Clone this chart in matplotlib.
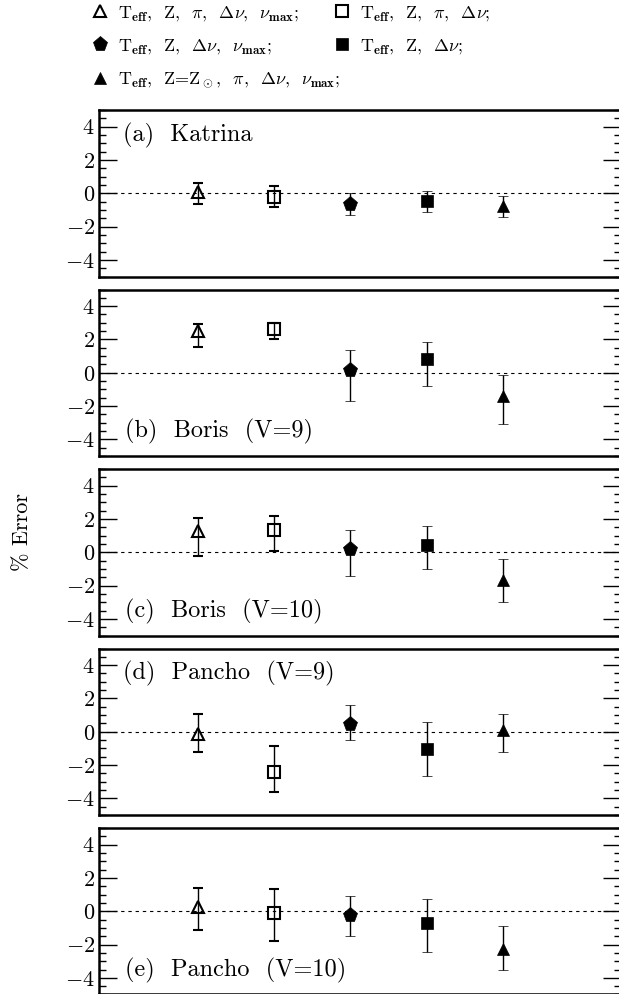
import numpy as np
import matplotlib
matplotlib.use('Agg')
import matplotlib.pyplot as plt

plt.rcParams['font.family'] = 'cmr10'
plt.rcParams['mathtext.fontset'] = 'cm'
plt.rcParams['axes.formatter.use_mathtext'] = True
plt.rcParams['axes.unicode_minus'] = True

# five fit combinations, same order in every panel
xpos = [1, 2, 3, 4, 5]
panel_labels = ['(a)  Katrina', '(b)  Boris  (V=9)', '(c)  Boris  (V=10)',
                '(d)  Pancho  (V=9)', '(e)  Pancho  (V=10)']
label_top = [True, False, False, True, False]

# % error (marker centre) and error-bar ends
val_a = [0.10, -0.20, -0.64, -0.48, -0.76]
hi_a = [0.64, 0.44, 0.00, 0.16, -0.16]
lo_a = [-0.64, -0.80, -1.28, -1.12, -1.44]

val_b = [2.48, 2.62, 0.14, 0.80, -1.40]
hi_b = [2.94, 3.00, 1.36, 1.86, -0.14]
lo_b = [1.56, 2.04, -1.72, -0.80, -3.10]

val_c = [1.26, 1.36, 0.18, 0.46, -1.64]
hi_c = [2.08, 2.16, 1.36, 1.56, -0.40]
lo_c = [-0.20, 0.10, -1.40, -0.98, -2.98]

val_d = [-0.14, -2.44, 0.48, -1.06, 0.12]
hi_d = [1.06, -0.88, 1.62, 0.60, 1.08]
lo_d = [-1.20, -3.60, -0.48, -2.64, -1.22]

val_e = [0.28, -0.12, -0.24, -0.70, -2.28]
hi_e = [1.38, 1.32, 0.92, 0.76, -0.88]
lo_e = [-1.10, -1.80, -1.50, -2.44, -3.50]

vals = [val_a, val_b, val_c, val_d, val_e]
his = [hi_a, hi_b, hi_c, hi_d, hi_e]
los = [lo_a, lo_b, lo_c, lo_d, lo_e]

legend_labels = [
    r'$\mathrm{T}_{\mathbf{eff}}$,  Z,  $\pi$,  $\Delta\nu$,  $\nu_{\mathbf{max}}$;',
    r'$\mathrm{T}_{\mathbf{eff}}$,  Z,  $\pi$,  $\Delta\nu$;',
    r'$\mathrm{T}_{\mathbf{eff}}$,  Z,  $\Delta\nu$,  $\nu_{\mathbf{max}}$;',
    r'$\mathrm{T}_{\mathbf{eff}}$,  Z,  $\Delta\nu$;',
    r'$\mathrm{T}_{\mathbf{eff}}$,  Z=Z$_\odot$,  $\pi$,  $\Delta\nu$,  $\nu_{\mathbf{max}}$;',
]

styles = [
    dict(marker='^', ms=8.5, mfc='none', mec='k', mew=1.5),
    dict(marker='s', ms=8.0, mfc='none', mec='k', mew=1.5),
    dict(marker='p', ms=11.0, mfc='k', mec='k', mew=0.5),
    dict(marker='s', ms=8.5, mfc='k', mec='k', mew=0.5),
    dict(marker='^', ms=9.0, mfc='k', mec='k', mew=0.5),
]

W, H = 619, 994
fig = plt.figure(figsize=(W / 100, H / 100), dpi=100)

left, right = 99, 621
top0, step, ph = 110, 179.5, 166.5

handles = []
for i in range(5):
    top = top0 + i * step
    ax = fig.add_axes([left / W, 1 - (top + ph) / H, (right - left) / W, ph / H])
    ax.axhline(0, color='k', lw=0.8, ls=(0, (3, 3.5)), zorder=1)
    for j in range(5):
        v = vals[i][j]
        yerr = [[v - los[i][j]], [his[i][j] - v]]
        c = ax.errorbar([xpos[j]], [v], yerr=yerr, ls='none', ecolor='k',
                        elinewidth=1.0, capsize=3.8, capthick=1.0,
                        zorder=3, **styles[j])
        if i == 0:
            handles.append(c[0])
    ax.set_xlim(-0.30, 6.55)
    ax.set_ylim(-5, 5)
    ax.set_xticks([])
    ax.set_yticks([-4, -2, 0, 2, 4])
    ax.set_yticks(np.arange(-5, 5.01, 0.5), minor=True)
    ax.tick_params(axis='y', which='major', direction='in', length=13, width=1.0,
                   right=True, labelsize=16, pad=3)
    ax.tick_params(axis='y', which='minor', direction='in', length=5, width=1.0,
                   right=True)
    for s in ax.spines.values():
        s.set_linewidth(1.8)
    if label_top[i]:
        ax.text(0.046, 0.85, panel_labels[i], transform=ax.transAxes,
                fontsize=17.5, va='center', ha='left')
    else:
        ax.text(0.05, 0.145, panel_labels[i], transform=ax.transAxes,
                fontsize=17.5, va='center', ha='left')

fig.text(22 / W, 1 - 532 / H, '% Error', rotation=90, fontsize=16,
         ha='center', va='center')

# legend: column 1 = open tri, pentagon, filled tri; column 2 = open sq, filled sq
order = [0, 2, 4, 1, 3]
fig.legend([handles[k] for k in order], [legend_labels[k] for k in order],
           ncol=2, loc='upper left', bbox_to_anchor=(91 / W, 1 - 4 / H),
           frameon=False, fontsize=13, handlelength=1.0, handletextpad=0.5,
           columnspacing=-0.4, labelspacing=0.8, borderpad=0.0,
           borderaxespad=0.0, numpoints=1)

fig.savefig('out.png', dpi=100)
